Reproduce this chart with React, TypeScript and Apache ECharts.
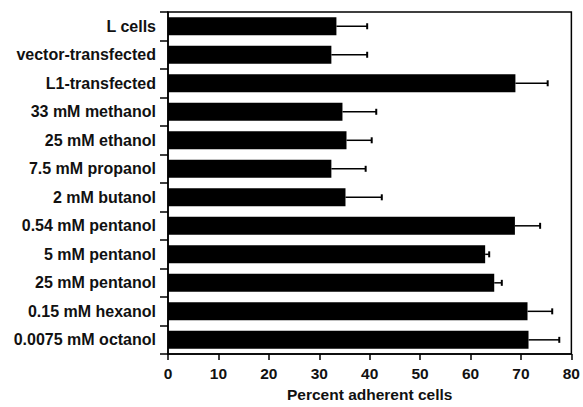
import React, { useEffect, useRef } from "react";
import * as echarts from "echarts";

const categories = [
  "L cells",
  "vector-transfected",
  "L1-transfected",
  "33 mM methanol",
  "25 mM ethanol",
  "7.5 mM propanol",
  "2 mM butanol",
  "0.54 mM pentanol",
  "5 mM pentanol",
  "25 mM pentanol",
  "0.15 mM hexanol",
  "0.0075 mM octanol",
];
const percentAdherent = [33.4, 32.4, 68.9, 34.6, 35.4, 32.4, 35.2, 68.8, 62.9, 64.7, 71.3, 71.5];
const errorPlus = [6.1, 7.1, 6.4, 6.7, 5.0, 6.8, 7.2, 5.0, 0.8, 1.5, 4.9, 6.1];
const xTicks = [0, 80, 10];
const xAxisTitle = "Percent adherent cells";

const FONT = "'Liberation Sans', Arial, Helvetica, sans-serif";

export default function App() {
  const ref = useRef<HTMLDivElement>(null);
  useEffect(() => {
    if (!ref.current) return;
    const chart = echarts.init(ref.current, undefined, { renderer: "svg" });
    const errData = categories.map((_, i) => [i, percentAdherent[i], percentAdherent[i] + errorPlus[i]]);
    chart.setOption({
      animation: false,
      textStyle: { fontFamily: FONT, color: "#000" },
      grid: {
        left: 168,
        right: 8,
        top: 12,
        bottom: 47,
        show: true,
        borderColor: "#000",
        borderWidth: 1.5,
        backgroundColor: "transparent",
      },
      xAxis: {
        type: "value",
        min: xTicks[0],
        max: xTicks[1],
        interval: xTicks[2],
        name: xAxisTitle,
        nameLocation: "middle",
        nameGap: 31,
        nameTextStyle: { fontSize: 15.5, fontWeight: "bold", color: "#111", fontFamily: FONT },
        axisLine: { show: true, lineStyle: { color: "#000", width: 1.5 } },
        axisTick: { show: true, length: 6, lineStyle: { color: "#000", width: 1.5 } },
        axisLabel: { fontSize: 15.5, fontWeight: "bold", color: "#111", margin: 11, fontFamily: FONT },
        splitLine: { show: false },
      },
      yAxis: {
        type: "category",
        data: categories,
        inverse: true,
        axisLine: { show: true, lineStyle: { color: "#000", width: 1.5 } },
        axisTick: { show: true, length: 8, alignWithLabel: false, lineStyle: { color: "#000", width: 1.5 } },
        axisLabel: { fontSize: 16, fontWeight: "bold", color: "#111", margin: 12, fontFamily: FONT },
        splitLine: { show: false },
      },
      series: [
        {
          type: "bar",
          data: percentAdherent,
          barWidth: 18,
          itemStyle: { color: "#000" },
          z: 2,
        },
        {
          type: "custom",
          data: errData,
          encode: { x: [1, 2], y: 0 },
          z: 3,
          renderItem: (params: any, api: any) => {
            const idx = api.value(0);
            const start = api.coord([api.value(1), idx]);
            const end = api.coord([api.value(2), idx]);
            const capH = 3;
            return {
              type: "group",
              children: [
                {
                  type: "line",
                  shape: { x1: start[0], y1: start[1], x2: end[0], y2: end[1] },
                  style: { stroke: "#000", lineWidth: 1.5 },
                },
                {
                  type: "line",
                  shape: { x1: end[0], y1: end[1] - capH, x2: end[0], y2: end[1] + capH },
                  style: { stroke: "#000", lineWidth: 2 },
                },
              ],
            };
          },
        },
      ],
    });
    return () => chart.dispose();
  }, []);
  return (
    <div
      ref={ref}
      style={{ position: "absolute", left: 0, top: 0, width: 583, height: 407, background: "#fff" }}
    />
  );
}
